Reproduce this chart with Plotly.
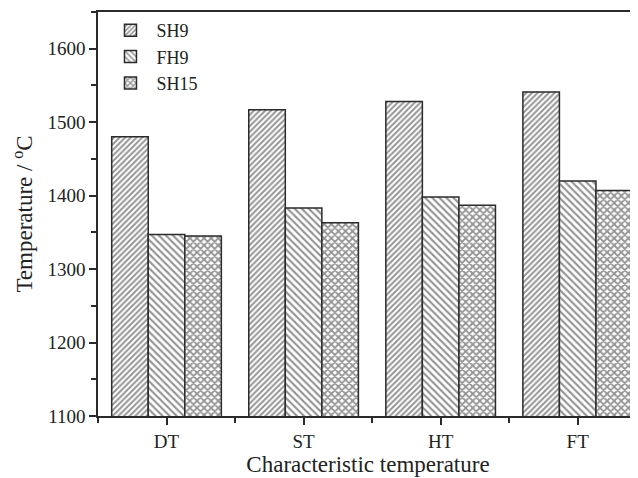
import plotly.graph_objects as go

categories = ["DT", "ST", "HT", "FT"]
sh9 = [1480, 1517, 1528, 1541]
fh9 = [1347, 1383, 1398, 1420]
sh15 = [1345, 1363, 1387, 1407]
series_names = ["SH9", "FH9", "SH15"]

xpos = list(range(len(categories)))
ink = "#2b2b2b"
font_family = "Liberation Serif, Times New Roman, serif"

fig = go.Figure()
specs = [(sh9, "/", 4, 0.5), (fh9, "\\", 5, 0.42), (sh15, "x", 5, 0.6)]
for name, (vals, shape, size, sol) in zip(series_names, specs):
    fig.add_trace(go.Bar(
        x=xpos, y=vals, name=name,
        marker=dict(color="white",
                    line=dict(color=ink, width=1.5),
                    pattern=dict(shape=shape, size=size, solidity=sol,
                                 fgcolor=ink, bgcolor="white")),
    ))

# page body has an 8px default margin; figure is sized to fill the rest
fig.update_layout(
    width=630, height=470,
    margin=dict(l=90, r=0, t=4, b=62, autoexpand=False),
    paper_bgcolor="white", plot_bgcolor="white",
    barmode="group", bargap=0.2, bargroupgap=0,
    font=dict(family=font_family, color="#222222", size=19),
    showlegend=True,
    legend=dict(x=0.012, y=1.0, xanchor="left", yanchor="top",
                font=dict(size=18), bgcolor="rgba(0,0,0,0)",
                tracegroupgap=0, itemwidth=42),
)
fig.update_xaxes(
    range=[-0.5, 3.44],
    tickmode="array", tickvals=xpos, ticktext=categories,
    ticks="outside", ticklen=7, tickwidth=1.5, tickcolor=ink,
    minor=dict(tick0=-0.5, dtick=1, ticks="outside", ticklen=5,
               tickwidth=1.5, tickcolor=ink),
    showline=True, linecolor=ink, linewidth=1.5, mirror=True,
    showgrid=False, zeroline=False, automargin=False,
    title=dict(text="Characteristic temperature", font=dict(size=23), standoff=2),
)
fig.update_yaxes(
    range=[1100, 1650], dtick=100, tick0=1100,
    ticks="outside", ticklen=7, tickwidth=1.5, tickcolor=ink,
    minor=dict(dtick=50, ticks="outside", ticklen=5, tickwidth=1.5, tickcolor=ink),
    showline=True, linecolor=ink, linewidth=1.5, mirror=False,
    showgrid=False, zeroline=False, automargin=False,
    title=dict(text="Temperature / <sup>o</sup>C", font=dict(size=23), standoff=8),
)

fig.write_html("out.html")
